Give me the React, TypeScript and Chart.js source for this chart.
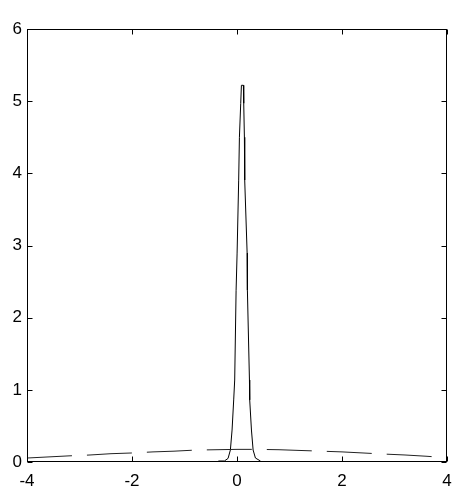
import React, { useEffect, useRef } from "react";
import { Chart, registerables } from "chart.js";

Chart.register(...registerables);

if (typeof document !== "undefined") {
  document.body.style.margin = "0";
  document.body.style.overflow = "hidden";
}

// Solid (narrow peak) series
const solidX = [-0.355, -0.24, -0.17, -0.126, -0.094, -0.063, -0.044, -0.017, 0.002, 0.032, 0.046, 0.071, 0.084, 0.122, 0.128, 0.141, 0.147, 0.193, 0.198, 0.237, 0.242, 0.275, 0.307, 0.351, 0.447];
const solidY = [0.014, 0.014, 0.05, 0.166, 0.443, 0.86, 1.136, 2.38, 2.895, 3.906, 4.5, 4.97, 5.22, 5.22, 4.97, 4.5, 3.906, 2.895, 2.38, 1.136, 0.86, 0.443, 0.166, 0.055, 0.014];

// Dashed (broad) series
const dashX = [-4, -3.6, -3.2, -2.8, -2.4, -2.0, -1.6, -1.2, -0.8, -0.4, 0, 0.4, 0.8, 1.2, 1.6, 2.0, 2.4, 2.8, 3.2, 3.6, 4];
const dashY = [0.055, 0.07, 0.085, 0.097, 0.115, 0.125, 0.14, 0.15, 0.165, 0.17, 0.175, 0.175, 0.17, 0.16, 0.15, 0.14, 0.125, 0.11, 0.097, 0.08, 0.06];

const xTicks = [-4, -2, 0, 2, 4];
const yTicks = [0, 1, 2, 3, 4, 5, 6];

const boxPlugin = {
  id: "matlabBox",
  afterDraw(chart: any) {
    const { ctx, chartArea } = chart;
    const xs = chart.scales.x;
    const ys = chart.scales.y;
    const l = Math.round(chartArea.left) + 0.5;
    const r = Math.round(chartArea.right) - 0.5;
    const t = Math.round(chartArea.top) + 0.5;
    const b = Math.round(chartArea.bottom) - 0.5;
    ctx.save();
    ctx.strokeStyle = "#000";
    ctx.lineWidth = 1;
    ctx.setLineDash([]);
    ctx.strokeRect(l, t, r - l, b - t);
    const tl = 5;
    ctx.beginPath();
    for (const v of xTicks) {
      const px = Math.round(xs.getPixelForValue(v)) + 0.5;
      ctx.moveTo(px, b);
      ctx.lineTo(px, b - tl);
      ctx.moveTo(px, t);
      ctx.lineTo(px, t + tl);
    }
    for (const v of yTicks) {
      const py = Math.round(ys.getPixelForValue(v)) + 0.5;
      ctx.moveTo(l, py);
      ctx.lineTo(l + tl, py);
      ctx.moveTo(r, py);
      ctx.lineTo(r - tl, py);
    }
    ctx.stroke();
    ctx.restore();
  },
};

export default function App() {
  const ref = useRef<HTMLCanvasElement>(null);

  useEffect(() => {
    const canvas = ref.current;
    if (!canvas) return;
    const font = { family: "Arial, 'Liberation Sans', sans-serif", size: 17 };
    const chart = new Chart(canvas, {
      type: "scatter",
      data: {
        datasets: [
          {
            data: dashX.map((x, i) => ({ x, y: dashY[i] })),
            showLine: true,
            borderColor: "#222",
            borderWidth: 1,
            borderDash: [45, 15],
            pointRadius: 0,
            tension: 0,
          },
          {
            data: solidX.map((x, i) => ({ x, y: solidY[i] })),
            showLine: true,
            borderColor: "#000",
            borderWidth: 1,
            pointRadius: 0,
            tension: 0,
          },
        ],
      },
      options: {
        animation: false,
        responsive: false,
        devicePixelRatio: 1,
        layout: { padding: { top: 29, right: 7, left: 0, bottom: 0 } },
        plugins: { legend: { display: false }, tooltip: { enabled: false } },
        scales: {
          x: {
            type: "linear",
            min: -4,
            max: 4,
            afterBuildTicks: (s: any) => {
              s.ticks = xTicks.map((v) => ({ value: v }));
            },
            afterFit: (s: any) => {
              s.height = 26;
              s.paddingLeft = 0;
              s.paddingRight = 0;
            },
            grid: { display: false, drawTicks: false },
            border: { display: false },
            ticks: { color: "#000", font, padding: 9, maxRotation: 0 },
          },
          y: {
            type: "linear",
            min: 0,
            max: 6,
            afterBuildTicks: (s: any) => {
              s.ticks = yTicks.map((v) => ({ value: v }));
            },
            afterFit: (s: any) => {
              s.width = 27;
              s.paddingTop = 0;
              s.paddingBottom = 0;
            },
            grid: { display: false, drawTicks: false },
            border: { display: false },
            ticks: { color: "#000", font, padding: 5 },
          },
        },
      },
      plugins: [boxPlugin],
    });
    return () => chart.destroy();
  }, []);

  return (
    <div style={{ width: 454, height: 488, background: "#fff" }}>
      <canvas ref={ref} width={454} height={488} style={{ display: "block", width: 454, height: 488 }} />
    </div>
  );
}
